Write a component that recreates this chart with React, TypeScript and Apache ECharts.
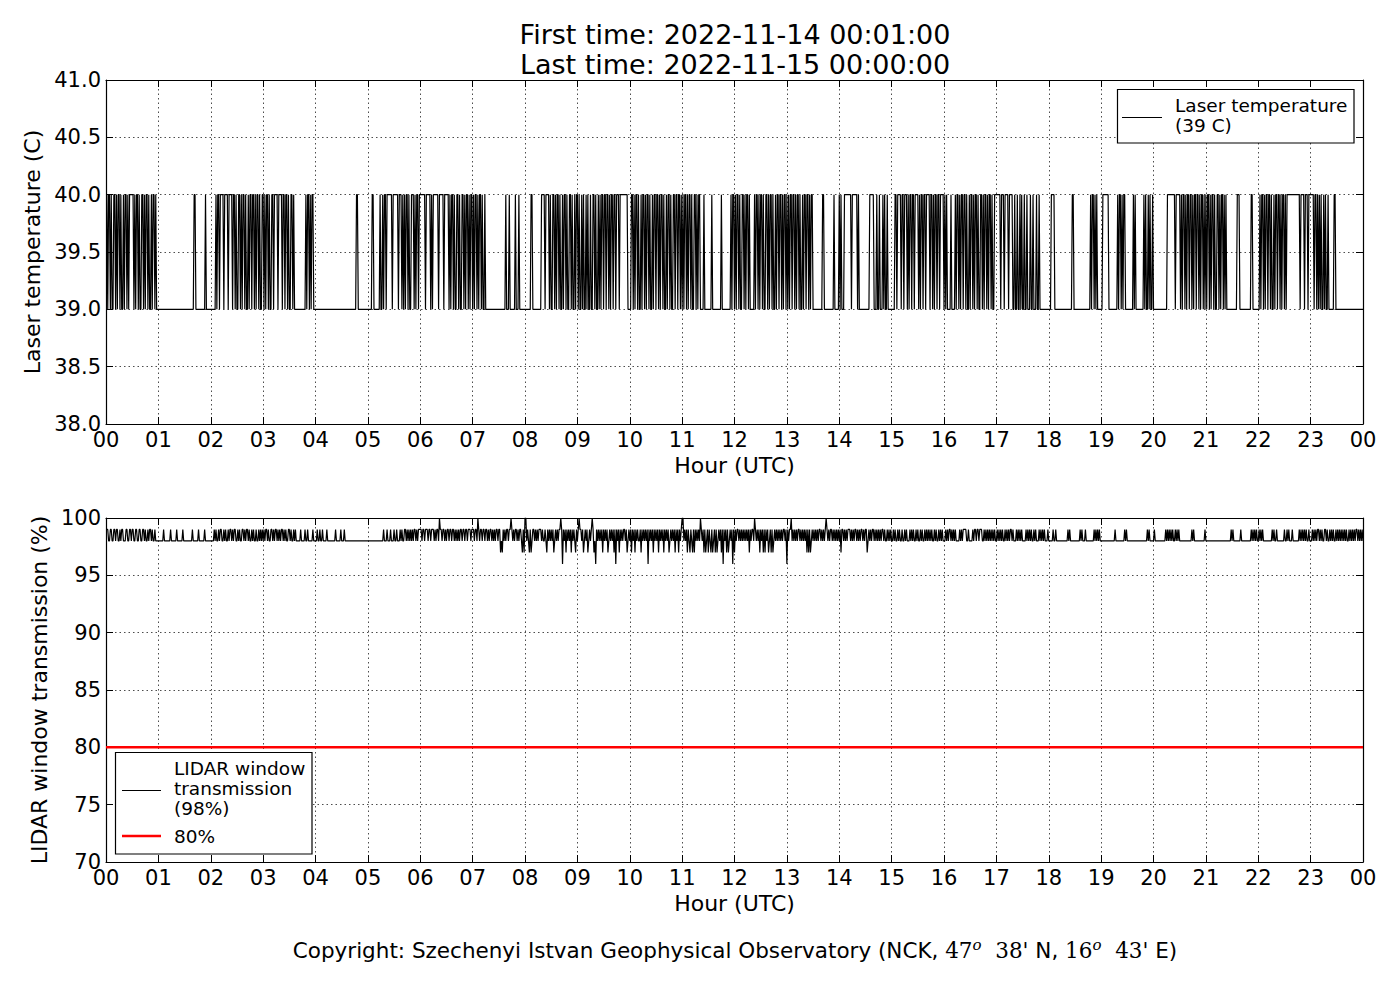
import React, { useEffect, useRef } from "react";
import * as echarts from "echarts";

const TITLE_LINES = ["First time: 2022-11-14 00:01:00", "Last time: 2022-11-15 00:00:00"];
const HOUR_LABELS = ["00", "01", "02", "03", "04", "05", "06", "07", "08", "09", "10", "11", "12",
  "13", "14", "15", "16", "17", "18", "19", "20", "21", "22", "23", "00"];
const X_LABEL = "Hour (UTC)";
const LASER_LABEL = "Laser temperature (C)";
const TRANS_LABEL = "LIDAR window transmission (%)";
const LASER_RANGE = [38, 41, 0.5];
const TRANS_RANGE = [70, 100, 5];
const THRESHOLD = 80;
const THRESHOLD_NAME = "80%";

// Laser temperature, one row per hour, one character per minute: 1 = 40 C, 0 = 39 C
const LASER_LEVELS: Record<string, number> = { "0": 39, "1": 40 };
const laserHours = [
  "1011010011 0101101001 0110101111 1010110100 1101011010 0101101000",
  "0000000000 0000000000 0000000000 0000000000 1100000000 0001000000",
  "0000010110 1111011110 1111011010 0110101101 0010110110 1011010011",
  "0101101001 1011110111 1011011010 0110100000 0000000010 1101011000",
  "0000000000 0000000000 0000000000 0000000000 0000001100 0000000000",
  "0000110000 0001001011 0111111011 1111011101 0101101001 1101011011",
  "1111101111 1010111111 0111110111 1101011010 0110100110 1011010110",
  "1011010110 1001000000 0000000000 0000000100 0100000010 0010000000",
  "0000001100 0000000011 1101111010 0110101101 0010110100 1101001011",
  "0100101001 0100100110 1001010110 1101101011 0110111011 1111111000",
  "0110101101 0010110101 1010010110 1101011010 0101101001 1011011010",
  "1011010110 1001101011 0000100000 0001000000 0000100000 0000010110",
  "1011010011 0101101000 0010110101 1010011010 1101001011 0110101101",
  "0101101101 0110100101 1011010110 0000000000 1100000000 0001000001",
  "0100011111 1110111111 0100000000 0000111110 0010010001 0100100000",
  "0001101111 0110111010 1101101111 0101101101 1110110101 1011011110",
  "1010000100 0010110101 1011010010 1101011010 0110101101 0110100111",
  "1111011101 1110111100 1001001010 0100100010 0100010010 0000000000",
  "0011110000 0000000000 0000001100 0000000000 0000000101 1010100000",
  "0111111100 0000000010 1101011000 0000001010 0000000010 1001010010",
  "0000000000 0000011111 1111011111 0101101011 0110101101 1010110101",
  "0110101101 0011010110 1010000000 0000011100 0000000000 0110000000",
  "0101101011 0110100101 1011010110 1011111111 1111111011 1101110111",
  "1110110101 0100101001 0000001100 0000000000 0000000000 0000000000",
];

// LIDAR window transmission, one row per hour, one character per minute:
// 0 = 100 %, 9 = 99 %, 8 = 98 %, 7 = 97 %, 6 = 96 %
const TRANS_LEVELS: Record<string, number> = { "0": 100, "9": 99, "8": 98, "7": 97, "6": 96 };
const transHours = [
  "9988998899 8998898998 8899889989 9889988998 8998988989 9898898888",
  "8888898888 8889888888 9888888988 8888888898 8888898888 8898888888",
  "8889898898 9988989889 8998989988 9898899898 9989889898 8988989898",
  "9899898899 8989989898 9989898899 8988989888 8898888988 9888889888",
  "8988988988 8898888888 8898888898 8898888888 8888888888 8888888888",
  "8888888888 8888888988 8988898889 8898889898 8998989898 9899898999",
  "9899899989 9899989899 8099899898 9989989989 8989899899 8998999899",
  "9899809899 8998998989 9898989989 9787989899 8990989899 8989987970",
  "0898797899 8989899989 8898798989 8978989899 0969897989 8979898798",
  "9099897898 9789890978 6989898979 8989789898 9796989798 9899897898",
  "9798979898 8979898989 6989897989 8979898979 8989789898 9798979890",
  "0898979879 8797989898 0989797897 9879789797 8989796989 7978989697",
  "9899898989 8989897989 9809898979 8979798978 9797898989 8989899896",
  "9899089898 9899898989 8979797898 9898989989 8989098989 9898989898",
  "9799898989 9989898998 9898998989 9789898998 9898989899 8988989898",
  "8989889898 8988989888 9898988989 8898988989 8989898898 9889898988",
  "8989899898 9898888989 8999988988 8898998998 9998898989 8989898988",
  "9898989889 8989899898 8898989898 8889898989 8898988898 9898988898",
  "8888988988 8888888888 8989888888 8888898988 8988888888 8989898988",
  "8888888888 8888898888 8888889898 8888888888 8888888888 8898988888",
  "9888888888 8889898989 8988989898 8888888888 8889898888 8888888898",
  "8888888888 8888888888 8888888898 9888888889 8888888888 8989898988",
  "9898988888 8888898988 9888888889 8898988898 8888889898 9898988988",
  "8989898998 9898899898 8989898898 9898989898 9889898989 8998989898",
];

function parseHours(rows: string[], levels: Record<string, number>): [number, number][] {
  const out: [number, number][] = [];
  rows.forEach((row, h) => {
    row.replace(/\s/g, "").split("").forEach((c, i) => {
      out.push([h * 60 + i + 1, levels[c]]);
    });
  });
  return out;
}

const FONT = "DejaVu Sans";
const SERIF = "DejaVu Serif";

export default function App() {
  const ref = useRef<HTMLDivElement>(null);

  useEffect(() => {
    document.body.style.margin = "0";
    if (!ref.current) return;
    const chart = echarts.init(ref.current, null, { renderer: "svg" });

    const laserData = parseHours(laserHours, LASER_LEVELS);
    const transData = parseHours(transHours, TRANS_LEVELS);
    const lastLaser = laserData[laserData.length - 1][1];
    const lastTrans = transData[transData.length - 1][1];
    const laserName = `Laser temperature\n(${lastLaser} C)`;
    const transName = `LIDAR window\ntransmission\n(${lastTrans}%)`;

    const gridLine = { show: true, lineStyle: { color: "#000", width: 0.7, type: [1.5, 3] as any } };
    const axisLine = { show: true, onZero: false, lineStyle: { color: "#000", width: 1.2 } };
    const tick = { show: true, inside: true, length: 7, lineStyle: { color: "#000", width: 1 } };

    const xBottom = (gi: number) => ({
      type: "value", gridIndex: gi, position: "bottom", min: 0, max: 1440, interval: 60,
      axisLine, axisTick: tick, splitLine: gridLine,
      axisLabel: {
        color: "#000", fontSize: 21, fontFamily: FONT, margin: 8, lineHeight: 16,
        formatter: (v: number) => HOUR_LABELS[Math.round(v / 60)],
      },
      name: X_LABEL, nameLocation: "middle", nameGap: 30,
      nameTextStyle: { color: "#000", fontSize: 22, fontFamily: FONT },
    });
    const xTop = (gi: number) => ({
      type: "value", gridIndex: gi, position: "top", min: 0, max: 1440, interval: 60,
      axisLine, axisTick: tick, splitLine: { show: false }, axisLabel: { show: false },
    });
    const yLeft = (gi: number, r: number[], name: string, gap: number, dec: number) => ({
      type: "value", gridIndex: gi, position: "left", min: r[0], max: r[1], interval: r[2],
      axisLine, axisTick: tick, splitLine: gridLine,
      axisLabel: {
        color: "#000", fontSize: 21, fontFamily: FONT, margin: 5, lineHeight: 16,
        formatter: (v: number) => v.toFixed(dec),
      },
      name, nameLocation: "middle", nameGap: gap, nameRotate: 90,
      nameTextStyle: { color: "#000", fontSize: 22, fontFamily: FONT },
    });
    const yRight = (gi: number, r: number[]) => ({
      type: "value", gridIndex: gi, position: "right", min: r[0], max: r[1], interval: r[2],
      axisLine, axisTick: tick, splitLine: { show: false }, axisLabel: { show: false },
    });

    const legendText = { fontFamily: FONT, fontSize: 18.5, fill: "#000", lineHeight: 20 };

    chart.setOption({
      animation: false,
      backgroundColor: "#fff",
      grid: [
        { left: 106, top: 80, width: 1257, height: 344, containLabel: false },
        { left: 106, top: 518, width: 1257, height: 344, containLabel: false },
      ],
      xAxis: [xBottom(0), xTop(0), xBottom(1), xTop(1)],
      yAxis: [
        yLeft(0, LASER_RANGE, LASER_LABEL, 59, 1),
        yRight(0, LASER_RANGE),
        yLeft(1, TRANS_RANGE, TRANS_LABEL, 50, 0),
        yRight(1, TRANS_RANGE),
      ],
      series: [
        {
          type: "line", name: laserName, xAxisIndex: 0, yAxisIndex: 0, data: laserData,
          symbol: "none", showSymbol: false, lineStyle: { color: "#000", width: 1.2 }, z: 3,
        },
        {
          type: "line", name: transName, xAxisIndex: 2, yAxisIndex: 2, data: transData,
          symbol: "none", showSymbol: false, lineStyle: { color: "#000", width: 1.2 }, z: 3,
        },
        {
          type: "line", name: THRESHOLD_NAME, xAxisIndex: 2, yAxisIndex: 2,
          data: [[0, THRESHOLD], [1440, THRESHOLD]],
          symbol: "none", showSymbol: false, lineStyle: { color: "#ff0000", width: 2.5 }, z: 4,
        },
      ],
      graphic: [
        {
          type: "text", x: 735, y: 49,
          style: {
            text: TITLE_LINES.join("\n"), textAlign: "center", textVerticalAlign: "middle",
            fontFamily: FONT, fontSize: 27, lineHeight: 30, fill: "#000",
          },
        },
        // upper legend
        { type: "rect", shape: { x: 1117.5, y: 89.5, width: 236.5, height: 53.5 }, style: { fill: "#fff", stroke: "#000", lineWidth: 1.2 }, z: 10 },
        { type: "line", shape: { x1: 1122, y1: 117.5, x2: 1162, y2: 117.5 }, style: { stroke: "#000", lineWidth: 1.2 }, z: 11 },
        { type: "text", x: 1175, y: 115, style: { text: laserName, textVerticalAlign: "middle", ...legendText }, z: 11 },
        // lower legend
        { type: "rect", shape: { x: 115.5, y: 752.5, width: 196.5, height: 101.5 }, style: { fill: "#fff", stroke: "#000", lineWidth: 1.2 }, z: 10 },
        { type: "line", shape: { x1: 122, y1: 790.5, x2: 161, y2: 790.5 }, style: { stroke: "#000", lineWidth: 1.2 }, z: 11 },
        { type: "text", x: 174, y: 788, style: { text: transName, textVerticalAlign: "middle", ...legendText }, z: 11 },
        { type: "line", shape: { x1: 122, y1: 836, x2: 161, y2: 836 }, style: { stroke: "#ff0000", lineWidth: 2.5 }, z: 11 },
        { type: "text", x: 174, y: 836, style: { text: THRESHOLD_NAME, textVerticalAlign: "middle", ...legendText }, z: 11 },
        // footer
        {
          type: "text", x: 735, y: 950,
          style: {
            text: "{a|Copyright: Szechenyi Istvan Geophysical Observatory (NCK, }{m|47}{s|o}{m|  38'}{a| N, }{m|16}{s|o}{m|  43'}{a| E)}",
            textAlign: "center", textVerticalAlign: "middle",
            rich: {
              a: { fontFamily: FONT, fontSize: 21.5, color: "#000", lineHeight: 26 },
              m: { fontFamily: SERIF, fontSize: 21.5, color: "#000", lineHeight: 26 },
              s: { fontFamily: SERIF, fontStyle: "italic", fontSize: 15, color: "#000", lineHeight: 15, verticalAlign: "top" },
            },
          },
        },
      ],
    });

    return () => chart.dispose();
  }, []);

  return <div ref={ref} style={{ width: 1400, height: 1000 }} />;
}
